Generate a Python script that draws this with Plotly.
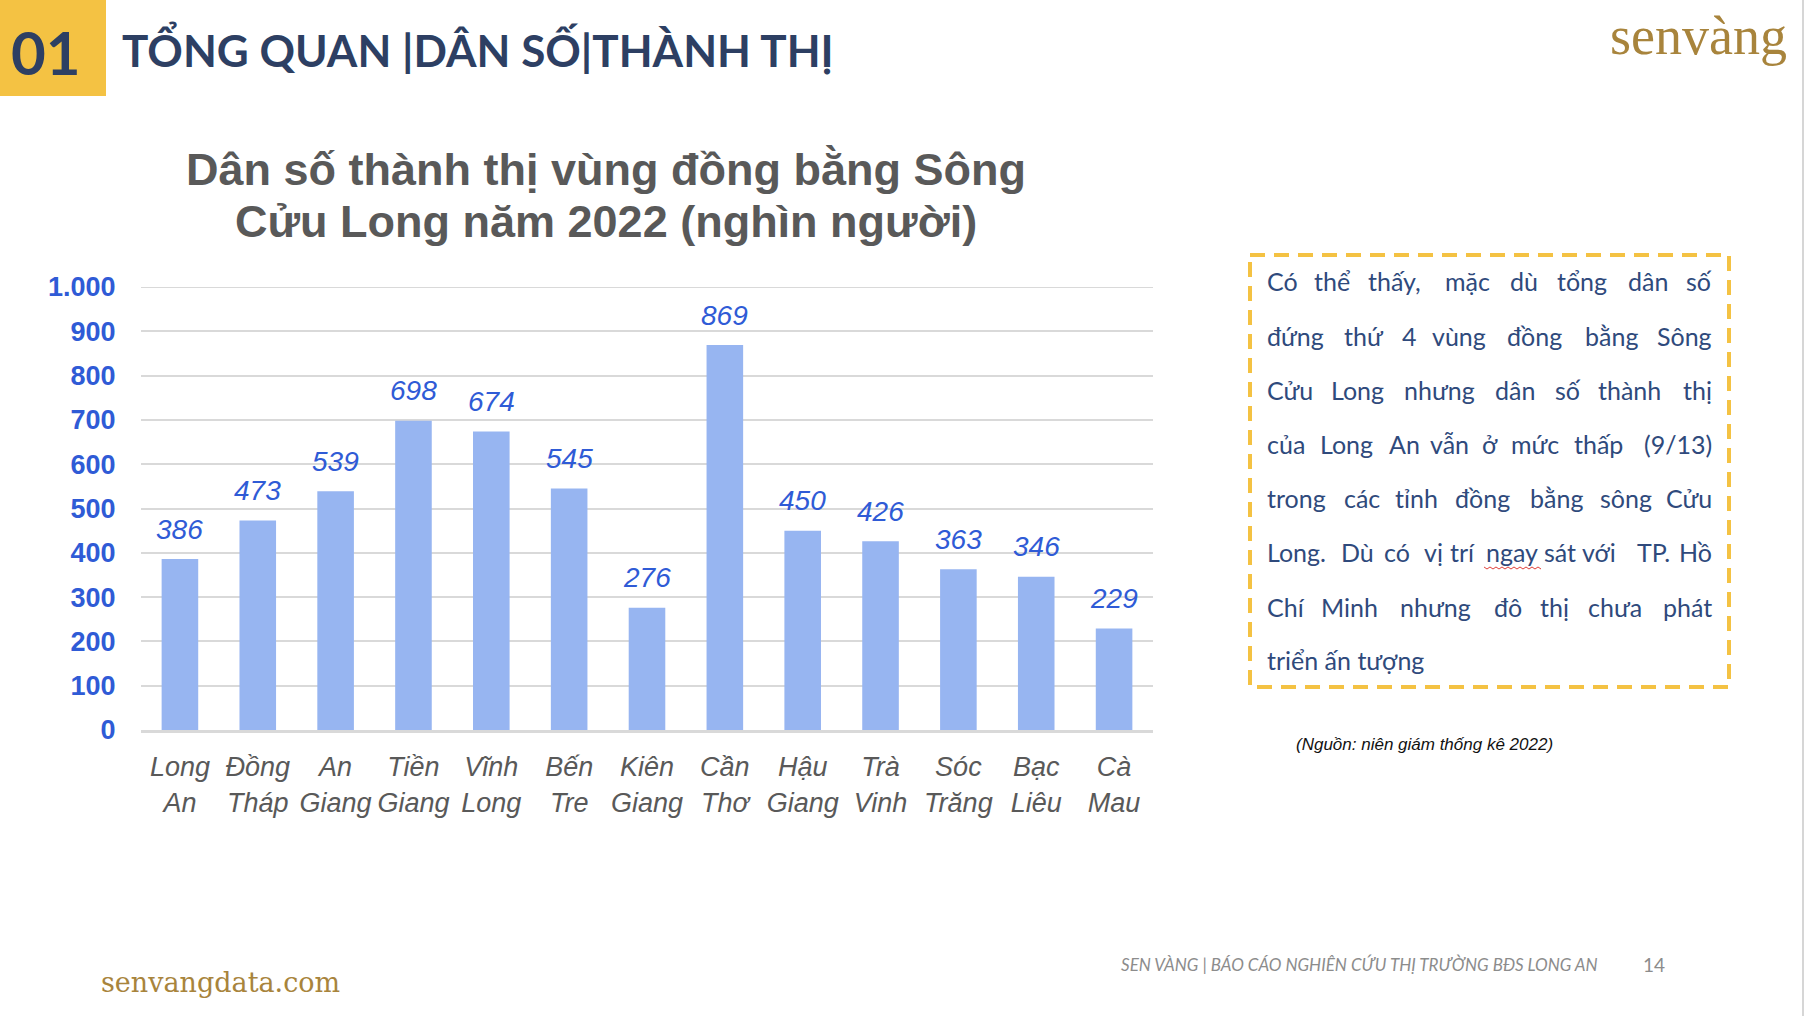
import plotly.graph_objects as go

# ---------------- data ----------------
categories = ["Long<br>An", "Đồng<br>Tháp", "An<br>Giang", "Tiền<br>Giang", "Vĩnh<br>Long",
              "Bến<br>Tre", "Kiên<br>Giang", "Cần<br>Thơ", "Hậu<br>Giang", "Trà<br>Vinh",
              "Sóc<br>Trăng", "Bạc<br>Liêu", "Cà<br>Mau"]
values = [386, 473, 539, 698, 674, 545, 276, 869, 450, 426, 363, 346, 229]
y_tickvals = [0, 100, 200, 300, 400, 500, 600, 700, 800, 900, 1000]
y_ticktext = ["0", "100", "200", "300", "400", "500", "600", "700", "800", "900", "1.000"]

chart_title = ["Dân số thành thị vùng đồng bằng Sông", "Cửu Long năm 2022 (nghìn người)"]
header_num = "01"
header_title = "TỔNG QUAN |DÂN SỐ|THÀNH THỊ"
body_lines = [
    "Có thể thấy, mặc dù tổng dân số",
    "đứng thứ 4 vùng đồng bằng Sông",
    "Cửu Long nhưng dân số thành thị",
    "của Long An vẫn ở mức thấp (9/13)",
    "trong các tỉnh đồng bằng sông Cửu",
    "Long. Dù có vị trí ngay sát với TP. Hồ",
    "Chí Minh nhưng đô thị chưa phát",
    "triển ấn tượng",
]
source_text = "(Nguồn: niên giám thống kê 2022)"
footer_text = "SEN VÀNG | BÁO CÁO NGHIÊN CỨU THỊ TRƯỜNG BĐS LONG AN"
page_no = "14"
website = "senvangdata.com"
logo = "senvàng"

# ---------------- layout geometry (pixels) ----------------
W, H = 1806, 1016
PL, PR, PT, PB = 141, 1153, 287, 730
YMAX = 1000


def px(X):
    return (X - PL) / (PR - PL)


def py(Y):
    return (PB - Y) / (PB - PT)


BLUE = "#2F5BD6"
BAR = "#97B5F1"
NAVY = "#2D3F63"
BODY = "#2F4A7C"
GOLD = "#A8843C"
YELLOW = "#F4C243"
GRID = "#D9D9D9"

fig = go.Figure()
fig.add_trace(go.Bar(x=categories, y=values, marker=dict(color=BAR, line=dict(width=0)),
                     width=0.47, hoverinfo="skip"))

annotations = []
for c, v in zip(categories, values):
    annotations.append(dict(x=c, y=v, xref="x", yref="y", text=str(v), showarrow=False,
                            yanchor="middle", yshift=30,
                            font=dict(family="Liberation Sans, Arial", size=28, color=BLUE, style="italic")))

# chart title
for i, line in enumerate(chart_title):
    annotations.append(dict(x=px(606), y=py(169 + 52 * i), xref="paper", yref="paper", text=line,
                            showarrow=False, xanchor="center", yanchor="middle",
                            font=dict(family="Liberation Sans, Arial", size=45, color="#595959", weight="bold")))

# header
annotations.append(dict(x=px(46), y=py(52), xref="paper", yref="paper", text=header_num, showarrow=False,
                        xanchor="center", yanchor="middle",
                        font=dict(family="Lato", size=60, color=NAVY, weight="bold")))
annotations.append(dict(x=px(120), y=py(48), xref="paper", yref="paper", text=header_title, showarrow=False,
                        xanchor="left", yanchor="middle",
                        font=dict(family="Lato", size=44, color=NAVY, weight="bold")))
annotations.append(dict(x=px(1698), y=py(36), xref="paper", yref="paper", text=logo, showarrow=False,
                        xanchor="center", yanchor="middle",
                        font=dict(family="Liberation Serif", size=54, color=GOLD)))

# body text (justified by word positions)
word_x = [
    [1265, 1312, 1366, 1443, 1508, 1555, 1626, 1685],
    [1265, 1342, 1400, 1430, 1505, 1583, 1655],
    [1265, 1329, 1402, 1493, 1553, 1596, 1682],
    [1265, 1318, 1387, 1428, 1480, 1509, 1572, 1634],
    [1265, 1342, 1393, 1453, 1528, 1598, 1667],
    [1265, 1339, 1382, 1422, 1448, 1484, 1542, 1580, 1635, 1678],
    [1265, 1319, 1398, 1492, 1538, 1586, 1659],
    None,
]
line_y = [281, 336, 390, 444, 498, 552, 607, 660]
body_font = dict(family="Lato", size=25, color=BODY)
for li, line in enumerate(body_lines):
    if word_x[li] is None:
        annotations.append(dict(x=px(1265), y=py(line_y[li]), xref="paper", yref="paper", text=line,
                                showarrow=False, xanchor="left", yanchor="middle", font=body_font))
        continue
    words = line.split(" ")
    for wi, w in enumerate(words):
        last = wi == len(words) - 1
        annotations.append(dict(x=px(1714 if last else word_x[li][wi]), y=py(line_y[li]),
                                xref="paper", yref="paper", text=w, showarrow=False,
                                xanchor="right" if last else "left", yanchor="middle", font=body_font))

annotations.append(dict(x=px(1424), y=py(744), xref="paper", yref="paper", text=source_text, showarrow=False,
                        xanchor="center", yanchor="middle",
                        font=dict(family="Liberation Sans, Arial", size=17, color="#111111", style="italic")))
annotations.append(dict(x=px(1119), y=py(964), xref="paper", yref="paper", text=footer_text, showarrow=False,
                        xanchor="left", yanchor="middle",
                        font=dict(family="Lato", size=17, color="#8C8C8C", style="italic")))
annotations.append(dict(x=px(1654), y=py(964), xref="paper", yref="paper", text=page_no, showarrow=False,
                        xanchor="center", yanchor="middle",
                        font=dict(family="Lato", size=19, color="#8C8C8C")))
annotations.append(dict(x=px(99), y=py(982), xref="paper", yref="paper", text=website, showarrow=False,
                        xanchor="left", yanchor="middle",
                        font=dict(family="DejaVu Serif", size=27, color=GOLD)))

shapes = [
    # top gridline at the last tick value
    dict(type="line", xref="paper", yref="y", x0=0, x1=1, y0=y_tickvals[-1], y1=y_tickvals[-1],
         line=dict(color=GRID, width=2)),
    dict(type="rect", xref="paper", yref="paper", x0=px(0), x1=px(106), y0=py(0), y1=py(96),
         fillcolor=YELLOW, line=dict(width=0), layer="below"),
    dict(type="rect", xref="paper", yref="paper", x0=px(1250), x1=px(1729), y0=py(255), y1=py(687),
         line=dict(color=YELLOW, width=4, dash="15px,9px"), fillcolor="rgba(0,0,0,0)"),
    dict(type="line", xref="paper", yref="paper", x0=px(1803), x1=px(1803), y0=py(0), y1=py(1016),
         line=dict(color="#D6D6D6", width=2)),
]
# red spell-check squiggle under "ngay"
xx = 1484
k = 0
path = "M{:.5f},{:.5f}".format(px(1484), py(567))
while xx < 1540:
    xx += 3
    k += 1
    path += " L{:.5f},{:.5f}".format(px(xx), py(567 + (2 if k % 2 else 0)))
shapes.append(dict(type="path", xref="paper", yref="paper", path=path,
                   line=dict(color="#E0403A", width=1)))

fig.update_layout(
    width=W, height=H,
    margin=dict(l=PL, r=W - PR, t=PT, b=H - PB, pad=0),
    paper_bgcolor="white", plot_bgcolor="white",
    showlegend=False,
    annotations=annotations,
    shapes=shapes,
    xaxis=dict(type="category", showgrid=False, showline=True, linecolor=GRID, linewidth=3,
               ticks="outside", ticklen=11, tickcolor="rgba(0,0,0,0)",
               tickfont=dict(family="Liberation Sans, Arial", size=27, color="#595959", style="italic"),
               fixedrange=True),
    yaxis=dict(range=[0, YMAX], tickvals=y_tickvals, ticktext=y_ticktext, showgrid=True,
               gridcolor=GRID, gridwidth=2, zeroline=False, showline=False,
               ticks="outside", ticklen=19, tickcolor="rgba(0,0,0,0)",
               tickfont=dict(family="Liberation Sans, Arial", size=27, color=BLUE, weight="bold"),
               fixedrange=True),
    bargap=0.5,
)

fig.write_html("out.html")
